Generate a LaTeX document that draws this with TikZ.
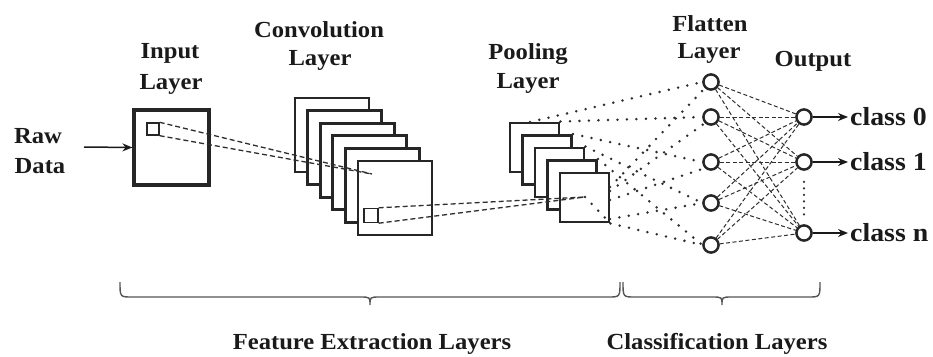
\documentclass[tikz,border=0pt]{standalone}
\usepackage{fontspec}
\setmainfont{Liberation Serif}[FakeStretch=1.07]
\usetikzlibrary{arrows.meta,calc}
\definecolor{ink}{HTML}{1A1A1A}
\definecolor{edge}{HTML}{262626}
\definecolor{wire}{HTML}{2E2E2E}
\definecolor{bracegray}{HTML}{555555}

\begin{document}
\begin{tikzpicture}[x=1pt,y=-1pt,
  lbl/.style={font=\fontsize{23}{28}\selectfont\bfseries, text=ink, anchor=base, inner sep=0pt},
  cls/.style={font=\fontsize{26}{30}\selectfont\bfseries, text=ink, anchor=west, inner sep=2pt},
  sheet/.style={draw=edge, line width=2.9pt, fill=white, rectangle, inner sep=0pt},
  patch/.style={draw=edge, line width=1.4pt, rectangle, inner sep=0pt},
  unit/.style={draw=edge, line width=2.3pt, circle, fill=white, minimum size=15pt, inner sep=0pt},
  link/.style={draw=wire, line width=1.3pt, dash pattern=on 5pt off 3pt},
  dense/.style={draw=wire, line width=1pt, dash pattern=on 4pt off 2.5pt},
  fan/.style={draw=wire, line width=2.8pt, line cap=round, dash pattern=on 0pt off 9.5pt},
  feed/.style={draw=ink, line width=1.5pt, -{Stealth[length=10pt,width=8pt]}},
  brc/.style={draw=bracegray, line width=1.4pt},
]
\useasboundingbox (0,0) rectangle (933,356);

% ---------- input ----------
\node[lbl] (rawA) at (38,143) {Raw};
\node[lbl] (rawB) at (40,173) {Data};
\node[lbl] (inA) at (170,58) {Input};
\node[lbl] (inB) at (171,89) {Layer};
\node[sheet, line width=3.2pt, minimum size=75pt] (inp) at (171.5,147.5) {};
\node[patch, minimum size=12pt] (inpatch) at (153,129) {};
\coordinate (src) at (84,147);
\draw[feed] (src) -- (inp.west);

% ---------- convolution stack ----------
\node[lbl] (cvA) at (319,37) {Convolution};
\node[lbl] (cvB) at (320,65) {Layer};
\foreach \k in {0,...,5}
  \node[sheet, minimum size=74pt] (c\k) at ({332+12.6*\k},{135+12.6*\k}) {};
\node[patch, minimum size=14pt] (convpatch) at (371,215.5) {};
\coordinate (convfocus) at (372,174);
\draw[link] (inpatch.north east) -- (convfocus);
\draw[link] (inpatch.south east) -- (convfocus);

% ---------- pooling stack ----------
\node[lbl] (plA) at (528,59) {Pooling};
\node[lbl] (plB) at (528,88) {Layer};
\foreach \k in {0,...,4}
  \node[sheet, minimum size=49pt] (p\k) at ({534.5+12.5*\k},{147.5+12.5*\k}) {};
\coordinate (poolfocus) at (585,197);
\draw[link] (convpatch.north east) -- (poolfocus);
\draw[link] (convpatch.south east) -- (poolfocus);

% ---------- flatten and output units ----------
\node[lbl] (flA) at (710,31) {Flatten};
\node[lbl] (flB) at (709,58) {Layer};
\node[lbl] (outA) at (813,66) {Output};
\foreach \i/\y in {1/82,2/117,3/162,4/203,5/245}
  \node[unit] (f\i) at (711,\y) {};
\foreach \i/\y in {1/117,2/162,3/233}
  \node[unit] (o\i) at (804,\y) {};

% dotted fan from the pooled maps into the flatten units
\coordinate (s0) at (530,122);
\coordinate (r1) at (610,187);
\coordinate (r2) at (610,191);
\coordinate (r3) at (610,200);
\coordinate (r4) at (610,219);
\draw[fan] (s0) -- (f1.west);
\draw[fan] (p0.north east) -- (f2.west);
\draw[fan] (p1.north east) -- (f3.west);
\draw[fan] (p2.north east) -- (f4.west);
\draw[fan] (p3.north east) -- (f5.west);
\draw[fan] (p4.south east) -- (f5.west);
\draw[fan] (r1) -- (f1.south west);
\draw[fan] (r2) -- (f2.south west);
\draw[fan] (r3) -- (f3.south west);
\draw[fan] (r4) -- (f4.west);
\draw[fan] (poolfocus) -- (p4.south east);

% dense connections flatten -> output
\foreach \i in {1,...,5}
  \foreach \j in {1,2,3}
    \draw[dense] (f\i) -- (o\j);
\foreach \i in {1,...,5} \node[unit] at (f\i) {};
\foreach \j in {1,2,3} \node[unit] at (o\j) {};

% class outputs
\node[cls] (k0) at (848,117) {class 0};
\node[cls] (k1) at (848,162) {class 1};
\node[cls] (kn) at (848,233) {class n};
\draw[feed] (o1.east) -- (k0.west);
\draw[feed] (o2.east) -- (k1.west);
\draw[feed] (o3.east) -- (kn.west);
\draw[fan, line width=2.3pt, dash pattern=on 0pt off 6.5pt] ($(o2)!0.28!(o3)$) -- ($(o2)!0.74!(o3)$);

% ---------- grouping braces ----------
\draw[brc] (120,282) .. controls (120,297) and (120,297) .. (132,297)
  -- (360,297) .. controls (370,297) and (370,297) .. (370,305)
  .. controls (370,297) and (370,297) .. (380,297)
  -- (608,297) .. controls (620,297) and (620,297) .. (620,282);
\draw[brc] (623,282) .. controls (623,297) and (623,297) .. (635,297)
  -- (712,297) .. controls (722,297) and (722,297) .. (722,305)
  .. controls (722,297) and (722,297) .. (732,297)
  -- (808,297) .. controls (820,297) and (820,297) .. (820,282);
\node[lbl] (feat) at (372,349) {Feature Extraction Layers};
\node[lbl] (clsf) at (717,349) {Classification Layers};
\end{tikzpicture}
\end{document}
